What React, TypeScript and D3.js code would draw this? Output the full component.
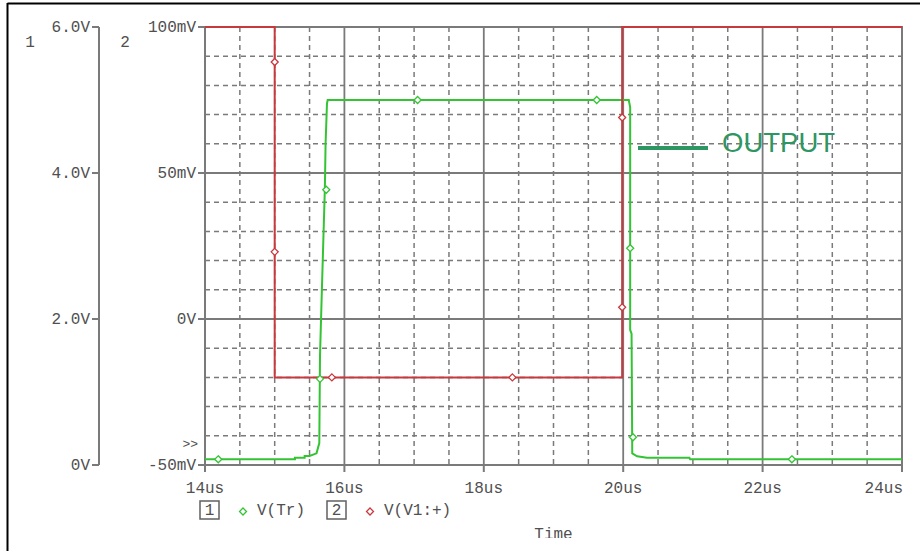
import React, { useEffect, useRef } from 'react';
import * as d3 from 'd3';

// V(Tr) trace, axis 1 (volts)
const trTime = [14, 15.29, 15.29, 15.43, 15.43, 15.5, 15.6, 15.64, 15.65, 15.68, 15.72, 15.73, 15.75, 15.76, 20.08, 20.1, 20.1, 20.12, 20.13, 20.2, 20.34, 20.95, 20.96, 24];
const trVolt = [0.078, 0.078, 0.1, 0.1, 0.123, 0.123, 0.16, 0.3, 1.5, 2.5, 3.8, 4.4, 4.95, 5.0, 5.0, 4.9, 1.85, 1.8, 0.16, 0.12, 0.1, 0.1, 0.078, 0.078];
const trMarkTime = [14.19, 15.65, 15.74, 17.05, 19.62, 20.1, 20.14, 22.42];
const trMarkVolt = [0.078, 1.18, 3.77, 5.0, 5.0, 2.97, 0.38, 0.078];

// V(V1:+) trace, axis 2 (millivolts)
const v1Time = [14, 15.0, 15.0, 19.985, 19.985, 24];
const v1Mv = [100, 100, -20, -20, 100, 100];
const v1MarkTime = [15.0, 15.0, 15.82, 18.41, 19.985, 19.985];
const v1MarkMv = [88, 23, -20, -20, 4, 69];

const xTicks = [14, 16, 18, 20, 22, 24];
const xTickLabels = ['14us', '16us', '18us', '20us', '22us', '24us'];
const y1Ticks = [0, 2, 4, 6];
const y1TickLabels = ['0V', '2.0V', '4.0V', '6.0V'];
const y2Ticks = [-50, 0, 50, 100];
const y2TickLabels = ['-50mV', '0V', '50mV', '100mV'];

const GREEN = '#33c433';
const RED = '#c8383c';
const GRID = '#7a7a7a';
const TEXT = '#505050';
const FONT = '"Liberation Mono", monospace';

const App: React.FC = () => {
  const svgRef = useRef<SVGSVGElement>(null);

  useEffect(() => {
    if (!svgRef.current) return;
    const svg = d3.select(svgRef.current);
    svg.selectAll('*').remove();

    const left = 205, right = 902, top = 27, bottom = 465;
    const x = d3.scaleLinear().domain([14, 24]).range([left, right]);
    const y1 = d3.scaleLinear().domain([0, 6]).range([bottom, top]);
    const y2 = d3.scaleLinear().domain([-50, 100]).range([bottom, top]);

    // outer frame
    svg.append('line').attr('x1', 7.5).attr('x2', 920).attr('y1', 3.5).attr('y2', 3.5)
      .attr('stroke', '#000').attr('stroke-width', 2);
    svg.append('line').attr('x1', 7.5).attr('x2', 7.5).attr('y1', 3).attr('y2', 551)
      .attr('stroke', '#000').attr('stroke-width', 2);

    // minor grid (dashed)
    const minorX = d3.range(14.5, 24, 0.5).filter(t => Math.abs(t % 2) > 0.01);
    svg.append('g').selectAll('line').data(minorX).join('line')
      .attr('x1', d => x(d)).attr('x2', d => x(d))
      .attr('y1', top).attr('y2', bottom)
      .attr('stroke', GRID).attr('stroke-width', 1.5).attr('stroke-dasharray', '5,4');
    const minorY = d3.range(-40, 100, 10).filter(v => v % 50 !== 0);
    svg.append('g').selectAll('line').data(minorY).join('line')
      .attr('y1', d => y2(d)).attr('y2', d => y2(d))
      .attr('x1', left).attr('x2', right)
      .attr('stroke', GRID).attr('stroke-width', 1.5).attr('stroke-dasharray', '5,4');

    // major grid (solid)
    svg.append('g').selectAll('line').data(xTicks.slice(1, -1)).join('line')
      .attr('x1', d => x(d)).attr('x2', d => x(d))
      .attr('y1', top).attr('y2', bottom)
      .attr('stroke', GRID).attr('stroke-width', 1.8);
    svg.append('g').selectAll('line').data(y2Ticks.slice(1, -1)).join('line')
      .attr('y1', d => y2(d)).attr('y2', d => y2(d))
      .attr('x1', left).attr('x2', right)
      .attr('stroke', GRID).attr('stroke-width', 1.8);

    // plot border
    svg.append('rect').attr('x', left).attr('y', top)
      .attr('width', right - left).attr('height', bottom - top)
      .attr('fill', 'none').attr('stroke', GRID).attr('stroke-width', 2);

    // x ticks
    const xg = svg.append('g');
    xg.selectAll('line').data(xTicks).join('line')
      .attr('x1', d => x(d)).attr('x2', d => x(d))
      .attr('y1', bottom).attr('y2', bottom + 7)
      .attr('stroke', GRID).attr('stroke-width', 2);
    xg.selectAll('text').data(xTicks).join('text')
      .attr('x', (d, i) => i === xTicks.length - 1 ? x(d) + 1 : x(d))
      .attr('y', 493)
      .attr('text-anchor', (d, i) => i === xTicks.length - 1 ? 'end' : 'middle')
      .attr('font-family', FONT).attr('font-size', 16).attr('fill', TEXT)
      .text((d, i) => xTickLabels[i]);

    // axis 1 (V(Tr))
    const ax1 = 99;
    svg.append('line').attr('x1', ax1).attr('x2', ax1).attr('y1', top).attr('y2', bottom)
      .attr('stroke', GRID).attr('stroke-width', 2);
    const g1 = svg.append('g');
    g1.selectAll('line').data(y1Ticks).join('line')
      .attr('x1', ax1 - 7).attr('x2', ax1).attr('y1', d => y1(d)).attr('y2', d => y1(d))
      .attr('stroke', GRID).attr('stroke-width', 2);
    g1.selectAll('text').data(y1Ticks).join('text')
      .attr('x', ax1 - 9).attr('y', d => y1(d) + 5)
      .attr('text-anchor', 'end')
      .attr('font-family', FONT).attr('font-size', 16).attr('fill', TEXT)
      .text((d, i) => y1TickLabels[i]);
    svg.append('text').attr('x', 30).attr('y', 47).attr('text-anchor', 'middle')
      .attr('font-family', FONT).attr('font-size', 16).attr('fill', TEXT).text('1');

    // axis 2 (V(V1:+))
    const g2 = svg.append('g');
    g2.selectAll('line').data(y2Ticks).join('line')
      .attr('x1', left - 7).attr('x2', left).attr('y1', d => y2(d)).attr('y2', d => y2(d))
      .attr('stroke', GRID).attr('stroke-width', 2);
    g2.selectAll('text').data(y2Ticks).join('text')
      .attr('x', left - 9).attr('y', d => y2(d) + 5)
      .attr('text-anchor', 'end')
      .attr('font-family', FONT).attr('font-size', 16).attr('fill', TEXT)
      .text((d, i) => y2TickLabels[i]);
    svg.append('text').attr('x', 125).attr('y', 47).attr('text-anchor', 'middle')
      .attr('font-family', FONT).attr('font-size', 16).attr('fill', TEXT).text('2');
    svg.append('text').attr('x', left - 7).attr('y', 448).attr('text-anchor', 'end')
      .attr('font-family', FONT).attr('font-size', 13).attr('fill', TEXT).text('>>');

    // traces
    const trLine = d3.line<number>().x(i => x(trTime[i])).y(i => y1(trVolt[i]));
    svg.append('path').datum(d3.range(trTime.length))
      .attr('fill', 'none').attr('stroke', GREEN).attr('stroke-width', 2)
      .attr('d', trLine);
    const v1Line = d3.line<number>().x(i => x(v1Time[i])).y(i => y2(v1Mv[i]));
    svg.append('path').datum(d3.range(v1Time.length))
      .attr('fill', 'none').attr('stroke', RED).attr('stroke-width', 2)
      .attr('d', v1Line);

    const diamond = (cx: number, cy: number, color: string) => {
      const r = 3.5;
      svg.append('path')
        .attr('d', `M${cx},${cy - r}L${cx + r},${cy}L${cx},${cy + r}L${cx - r},${cy}Z`)
        .attr('fill', '#fff').attr('stroke', color).attr('stroke-width', 1.3);
    };
    trMarkTime.forEach((t, i) => diamond(x(t), y1(trMarkVolt[i]), GREEN));
    v1MarkTime.forEach((t, i) => diamond(x(t), y2(v1MarkMv[i]), RED));

    // OUTPUT annotation
    svg.append('line').attr('x1', 638).attr('x2', 708).attr('y1', 148).attr('y2', 148)
      .attr('stroke', '#2e9663').attr('stroke-width', 4);
    svg.append('text').attr('x', 722).attr('y', 152)
      .attr('font-family', '"Liberation Sans", Arial, sans-serif').attr('font-size', 27.5)
      .attr('fill', '#2e9663').text('OUTPUT');

    // legend
    const leg = svg.append('g').attr('font-family', FONT).attr('font-size', 16).attr('fill', TEXT);
    const box = (bx: number, label: string) => {
      leg.append('rect').attr('x', bx).attr('y', 501).attr('width', 19).attr('height', 18)
        .attr('fill', 'none').attr('stroke', '#606060').attr('stroke-width', 1.5);
      leg.append('text').attr('x', bx + 9.5).attr('y', 515).attr('text-anchor', 'middle').text(label);
    };
    box(200, '1');
    diamond(243, 511.5, GREEN);
    leg.append('text').attr('x', 257).attr('y', 515).text('V(Tr)');
    box(327, '2');
    diamond(370, 511.5, RED);
    leg.append('text').attr('x', 384).attr('y', 515).text('V(V1:+)');

    // x axis title (cut off at bottom)
    svg.append('clipPath').attr('id', 'cut').append('rect')
      .attr('x', 0).attr('y', 0).attr('width', 920).attr('height', 538);
    svg.append('text').attr('x', (left + right) / 2).attr('y', 539)
      .attr('text-anchor', 'middle').attr('clip-path', 'url(#cut)')
      .attr('font-family', FONT).attr('font-size', 16).attr('fill', TEXT).text('Time');
  }, []);

  return (
    <div style={{ position: 'fixed', left: 0, top: 0, width: 920, height: 551, background: '#fff' }}>
      <svg ref={svgRef} width={920} height={551} style={{ display: 'block' }} />
    </div>
  );
};

export default App;
